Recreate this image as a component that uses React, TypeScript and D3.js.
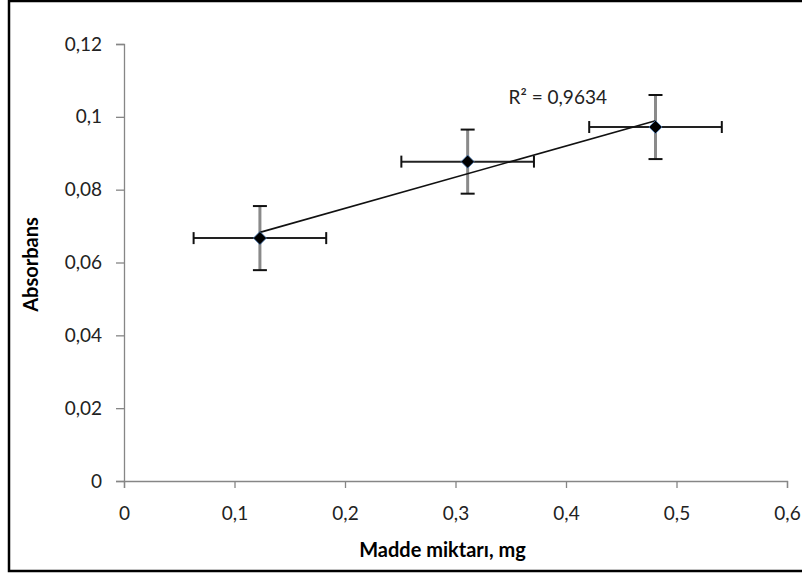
import { useEffect, useRef } from 'react';
import * as d3 from 'd3';

const W = 802;
const H = 577;

const amounts = [0.123, 0.311, 0.481];
const absorbance = [0.0667, 0.0877, 0.0972];
const xErr = [0.06, 0.06, 0.06];
const yErr = [0.0088, 0.0088, 0.0088];
const xTicks = [0, 0.1, 0.2, 0.3, 0.4, 0.5, 0.6];
const yTicks = [0, 0.02, 0.04, 0.06, 0.08, 0.1, 0.12];
const r2Label = 'R² = 0,9634';

const FONT = 'Lato, "Open Sans", sans-serif';

export default function App() {
  const svgRef = useRef<SVGSVGElement | null>(null);

  useEffect(() => {
    if (!svgRef.current) return;
    const svg = d3.select(svgRef.current);
    svg.selectAll('*').remove();

    const margin = { top: 44, right: 15, bottom: 96, left: 124 };
    const innerW = W - margin.left - margin.right;
    const innerH = H - margin.top - margin.bottom;

    // frame
    svg.append('rect')
      .attr('x', 9).attr('y', 1)
      .attr('width', W + 10).attr('height', 570)
      .attr('fill', '#fff')
      .attr('stroke', '#000')
      .attr('stroke-width', 2.5);

    const g = svg.append('g').attr('transform', `translate(${margin.left},${margin.top})`);

    const x = d3.scaleLinear().domain([0, 0.6]).range([0, innerW]);
    const y = d3.scaleLinear().domain([0, 0.12]).range([innerH, 0]);

    const fmt = (d: number) => (d === 0 ? '0' : String(+d.toFixed(2)).replace('.', ','));

    // axes
    const xAxis = g.append('g')
      .attr('transform', `translate(0,${innerH})`)
      .call(d3.axisBottom(x).tickValues(xTicks).tickFormat((d) => fmt(+d)).tickSizeOuter(0).tickSize(7).tickPadding(19));
    const yAxis = g.append('g')
      .call(d3.axisLeft(y).tickValues(yTicks).tickFormat((d) => fmt(+d)).tickSizeOuter(0).tickSize(8).tickPadding(14));

    [xAxis, yAxis].forEach((ax) => {
      ax.select('.domain').attr('stroke', '#868686').attr('stroke-width', 1.3);
      ax.selectAll('.tick line').attr('stroke', '#868686').attr('stroke-width', 1.3);
      ax.selectAll('.tick text')
        .attr('fill', '#222')
        .attr('font-family', FONT)
        .attr('font-size', '19px');
    });

    const pts = amounts.map((a, i) => ({ x: a, y: absorbance[i], ex: xErr[i], ey: yErr[i] }));

    // linear trend line (least squares)
    const mx = d3.mean(amounts) as number;
    const my = d3.mean(absorbance) as number;
    const sxy = d3.sum(pts, (p) => (p.x - mx) * (p.y - my));
    const sxx = d3.sum(pts, (p) => (p.x - mx) ** 2);
    const slope = sxy / sxx;
    const icpt = my - slope * mx;
    const x0 = d3.min(amounts) as number;
    const x1 = d3.max(amounts) as number;

    // vertical error bars (gray, behind)
    pts.forEach((p) => {
      g.append('line')
        .attr('x1', x(p.x)).attr('x2', x(p.x))
        .attr('y1', y(p.y - p.ey)).attr('y2', y(p.y + p.ey))
        .attr('stroke', '#8a8a8a').attr('stroke-width', 3);
      [p.y - p.ey, p.y + p.ey].forEach((v) => {
        g.append('line')
          .attr('x1', x(p.x) - 7).attr('x2', x(p.x) + 7)
          .attr('y1', y(v)).attr('y2', y(v))
          .attr('stroke', '#111').attr('stroke-width', 2);
      });
    });

    // horizontal error bars
    pts.forEach((p) => {
      g.append('line')
        .attr('x1', x(p.x - p.ex)).attr('x2', x(p.x + p.ex))
        .attr('y1', y(p.y)).attr('y2', y(p.y))
        .attr('stroke', '#222').attr('stroke-width', 2);
      [p.x - p.ex, p.x + p.ex].forEach((v) => {
        g.append('line')
          .attr('x1', x(v)).attr('x2', x(v))
          .attr('y1', y(p.y) - 6).attr('y2', y(p.y) + 6)
          .attr('stroke', '#111').attr('stroke-width', 2);
      });
    });

    // trend line
    g.append('line')
      .attr('x1', x(x0)).attr('x2', x(x1))
      .attr('y1', y(icpt + slope * x0)).attr('y2', y(icpt + slope * x1))
      .attr('stroke', '#111').attr('stroke-width', 1.6);

    // markers
    g.selectAll('path.pt')
      .data(pts)
      .join('path')
      .attr('class', 'pt')
      .attr('d', d3.symbol(d3.symbolDiamond2, 110)())
      .attr('transform', (p) => `translate(${x(p.x)},${y(p.y)})`)
      .attr('fill', '#000')
      .attr('stroke', '#4f81bd')
      .attr('stroke-width', 0.8);

    // R² label
    g.append('text')
      .attr('x', x(0.348)).attr('y', y(0.1) - 13)
      .attr('font-family', FONT)
      .attr('font-size', '19px')
      .attr('fill', '#222')
      .text(r2Label);

    // axis titles
    svg.append('text')
      .attr('x', margin.left + innerW / 2 - 13)
      .attr('y', 557)
      .attr('text-anchor', 'middle')
      .attr('font-family', FONT)
      .attr('font-weight', 'bold')
      .attr('font-size', '20px')
      .attr('fill', '#000')
      .text('Madde miktarı, mg');

    svg.append('text')
      .attr('transform', `translate(38,${margin.top + innerH / 2 + 2}) rotate(-90)`)
      .attr('text-anchor', 'middle')
      .attr('font-family', FONT)
      .attr('font-weight', 'bold')
      .attr('font-size', '20px')
      .attr('fill', '#000')
      .text('Absorbans');
  }, []);

  return (
    <div style={{ position: 'absolute', left: 0, top: 0 }}>
      <svg ref={svgRef} width={W} height={H} style={{ display: 'block' }} />
    </div>
  );
}
